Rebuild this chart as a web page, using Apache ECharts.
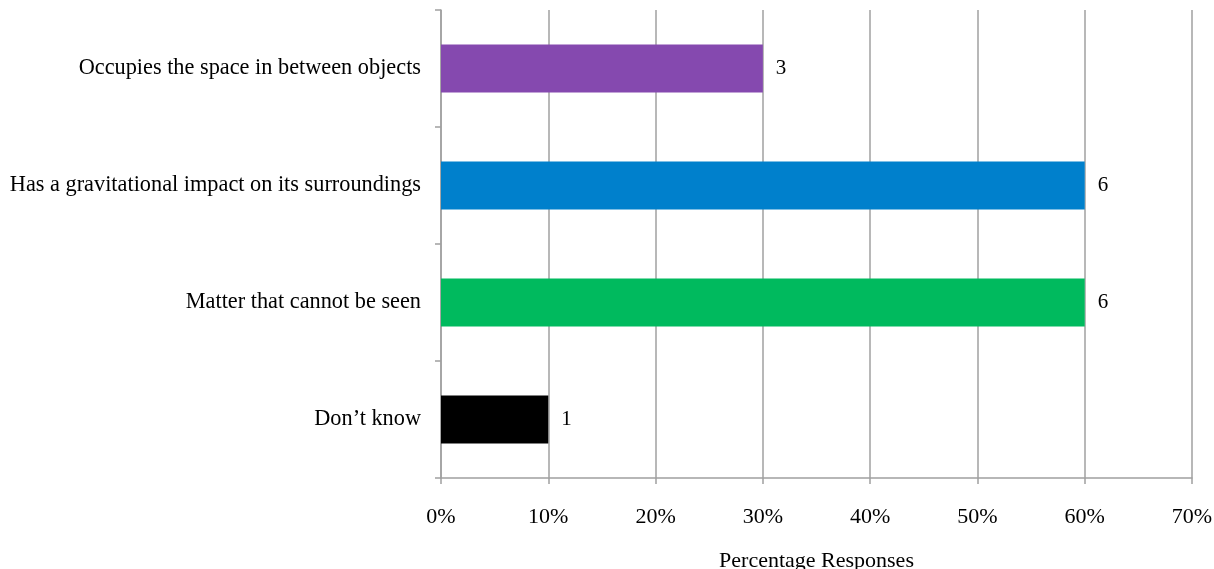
<!DOCTYPE html>
<html>
<head>
<meta charset="utf-8">
<script src="https://cdn.jsdelivr.net/npm/echarts@6/dist/echarts.min.js"></script>
<style>html,body{margin:0;padding:0;background:#fff;overflow:hidden}#c{width:1214px;height:569px}</style>
</head>
<body>
<div id="c"></div>
<script>
const categories = ["Don\u2019t know", "Matter that cannot be seen", "Has a gravitational impact on its surroundings", "Occupies the space in between objects"];
const percentages = [10, 60, 60, 30];
const counts = [1, 6, 6, 3];
const barColors = ["#000000", "#00BA5E", "#0080CC", "#8549AF"];
const xTicks = [0, 10, 20, 30, 40, 50, 60, 70];

const font = "'Liberation Serif', 'Times New Roman', serif";
const chart = echarts.init(document.getElementById('c'));
chart.setOption({
  animation: false,
  grid: { left: 441, right: 22, top: 10, bottom: 91, containLabel: false, outerBoundsMode: 'none' },
  xAxis: {
    type: 'value', min: xTicks[0], max: xTicks[xTicks.length - 1], interval: 10,
    name: 'Percentage Responses', nameLocation: 'middle', nameGap: 72,
    nameTextStyle: { fontFamily: font, fontSize: 22, color: '#000' },
    axisLine: { show: true, lineStyle: { color: '#a0a0a0', width: 1.5 } },
    axisTick: { show: true, length: 6, lineStyle: { color: '#a0a0a0', width: 1.5 } },
    axisLabel: { fontFamily: font, fontSize: 22, color: '#000', margin: 28, formatter: v => v + '%' },
    splitLine: { show: true, lineStyle: { color: '#a0a0a0', width: 1.5 } }
  },
  yAxis: {
    type: 'category', data: categories,
    axisLine: { show: true, lineStyle: { color: '#a0a0a0', width: 1.5 } },
    axisTick: { show: true, length: 6, lineStyle: { color: '#a0a0a0', width: 1.5 } },
    axisLabel: { fontFamily: font, fontSize: 22.3, color: '#000', margin: 20 },
    splitLine: { show: false }
  },
  series: [{
    type: 'bar',
    barWidth: '41%',
    data: percentages.map((v, i) => ({ value: v, itemStyle: { color: barColors[i] } })),
    label: {
      show: true, position: 'right', distance: 13,
      fontFamily: font, fontSize: 21, color: '#000',
      formatter: p => String(counts[p.dataIndex])
    }
  }]
});
</script>
</body>
</html>
